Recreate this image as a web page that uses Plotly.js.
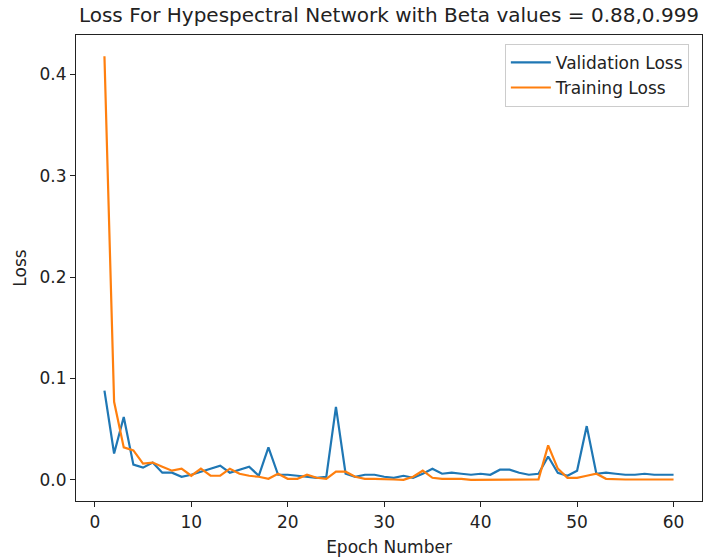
<!DOCTYPE html>
<html>
<head>
<meta charset="utf-8">
<script src="https://cdn.plot.ly/plotly-3.0.1.min.js"></script>
<style>
  html, body { margin: 0; padding: 0; background: #fff; }
  #chart { width: 717px; height: 560px; }
</style>
</head>
<body>
<div id="chart"></div>
<script>
// Epochs 1..60
const epochs = Array.from({length: 60}, (_, i) => i + 1);

// Per-epoch validation loss
const validationLoss = [
  0.088, 0.026, 0.062, 0.015, 0.012, 0.017, 0.007, 0.007, 0.003, 0.005,
  0.008, 0.011, 0.014, 0.007, 0.010, 0.013, 0.004, 0.032, 0.005, 0.005,
  0.004, 0.003, 0.002, 0.003, 0.072, 0.006, 0.003, 0.005, 0.005, 0.003,
  0.002, 0.004, 0.002, 0.006, 0.011, 0.006, 0.007, 0.006, 0.005, 0.006,
  0.005, 0.010, 0.010, 0.007, 0.005, 0.006, 0.023, 0.007, 0.004, 0.009,
  0.053, 0.006, 0.007, 0.006, 0.005, 0.005, 0.006, 0.005, 0.005, 0.005
];

// Per-epoch training loss
const trainingLoss = [
  0.418, 0.077, 0.032, 0.029, 0.016, 0.017, 0.013, 0.009, 0.011, 0.004,
  0.011, 0.004, 0.004, 0.011, 0.006, 0.004, 0.003, 0.001, 0.006, 0.001,
  0.001, 0.005, 0.002, 0.001, 0.008, 0.008, 0.003, 0.001, 0.001, 0.001,
  0.0003, 0.0, 0.003, 0.009, 0.002, 0.001, 0.001, 0.001, 0.0, 0.0,
  0.0005, 0.0005, 0.0005, 0.0005, 0.0005, 0.0005, 0.034, 0.011, 0.002, 0.002,
  0.004, 0.006, 0.001, 0.0005, 0.0003, 0.0003, 0.0003, 0.0003, 0.0003, 0.0003
];

const xTicks = [0, 10, 20, 30, 40, 50, 60];
const yTicks = [0.0, 0.1, 0.2, 0.3, 0.4];

const FONT = 'DejaVu Sans, sans-serif';

const traces = [
  {
    x: epochs, y: validationLoss, type: 'scatter', mode: 'lines',
    name: 'Validation Loss',
    line: {color: '#1f77b4', width: 2.2}
  },
  {
    x: epochs, y: trainingLoss, type: 'scatter', mode: 'lines',
    name: 'Training Loss',
    line: {color: '#ff7f0e', width: 2.2}
  }
];

// matplotlib-style 5% data margins
const yMin = Math.min(...validationLoss, ...trainingLoss);
const yMax = Math.max(...validationLoss, ...trainingLoss);
const yPad = (yMax - yMin) * 0.05;
const xPad = (epochs[epochs.length - 1] - epochs[0]) * 0.05;

const axisCommon = {
  showgrid: false,
  zeroline: false,
  showline: true,
  mirror: true,
  linecolor: '#222',
  linewidth: 1.1,
  ticks: 'outside',
  ticklen: 5,
  tickwidth: 1.1,
  tickcolor: '#222',
  tickfont: {family: FONT, size: 17, color: '#222'}
};

const layout = {
  width: 717,
  height: 560,
  paper_bgcolor: '#fff',
  plot_bgcolor: '#fff',
  margin: {l: 76, r: 15, t: 35, b: 59},
  showlegend: true,
  title: {
    text: 'Loss For Hypespectral Network with Beta values = 0.88,0.999',
    font: {family: FONT, size: 20, color: '#222'},
    x: 0.5 + (76 - 15) / 2 / 717, xanchor: 'center',
    y: 1 - 15 / 560, yanchor: 'middle'
  },
  xaxis: Object.assign({}, axisCommon, {
    range: [epochs[0] - xPad, epochs[epochs.length - 1] + xPad],
    tickvals: xTicks,
    ticktext: xTicks.map(String),
    title: {text: 'Epoch Number', font: {family: FONT, size: 17, color: '#222'}, standoff: 10}
  }),
  yaxis: Object.assign({}, axisCommon, {
    range: [yMin - yPad, yMax + yPad],
    tickvals: yTicks,
    ticktext: yTicks.map(v => v.toFixed(1)),
    title: {text: 'Loss', font: {family: FONT, size: 17, color: '#222'}, standoff: 8}
  }),
  legend: {
    x: 0.979, xanchor: 'right',
    y: 0.981, yanchor: 'top',
    bgcolor: 'rgba(255,255,255,0.8)',
    bordercolor: '#cccccc',
    borderwidth: 1,
    itemwidth: 40,
    font: {family: FONT, size: 17, color: '#222'},
    tracegroupgap: 0
  }
};

Plotly.newPlot('chart', traces, layout, {displayModeBar: false, staticPlot: true});
</script>
</body>
</html>
